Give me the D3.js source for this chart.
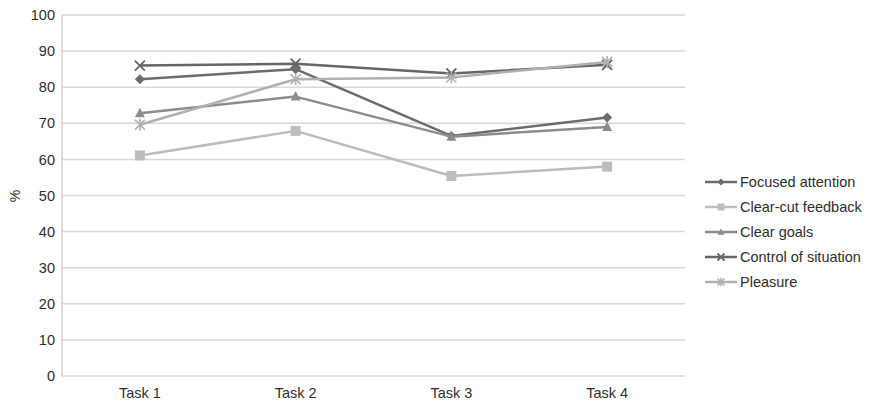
<!DOCTYPE html>
<html><head><meta charset="utf-8">
<script src="https://cdn.jsdelivr.net/npm/d3@7"></script>
<style>body{margin:0;background:#fff;}svg{display:block;font-family:"Liberation Sans",Arial,sans-serif;}</style>
</head><body>
<svg id="c" width="869" height="405"></svg>
<script>
const categories = ["Task 1","Task 2","Task 3","Task 4"];
const seriesNames = ["Focused attention","Clear-cut feedback","Clear goals","Control of situation","Pleasure"];
const focusedAttention = [82.2, 85.0, 66.5, 71.6];
const clearCutFeedback = [61.1, 67.9, 55.4, 58.0];
const clearGoals = [72.8, 77.4, 66.3, 69.0];
const controlOfSituation = [86.0, 86.5, 83.8, 86.2];
const pleasure = [69.6, 82.2, 82.7, 87.0];
const yTicks = [0,10,20,30,40,50,60,70,80,90,100];

const seriesValues = [focusedAttention, clearCutFeedback, clearGoals, controlOfSituation, pleasure];
const colors = ["#6c6c6c","#bcbcbc","#8c8c8c","#666666","#b0b0b0"];
const markers = ["diamond","square","triangle","x","star"];
const FONT = '"Liberation Sans",Arial,sans-serif';
const TXT = "#2e2e2e";

const svg = d3.select("#c");
const L = 62, R = 685, T = 15, B = 376;
const x = d3.scaleBand().domain(categories).range([L, R]);
const y = d3.scaleLinear().domain([0,100]).range([B, T]);

svg.append("g").selectAll("line").data(yTicks).join("line")
  .attr("x1", L).attr("x2", R).attr("y1", d=>y(d)).attr("y2", d=>y(d))
  .attr("stroke", "#d9d9d9").attr("stroke-width", 1.5);
svg.append("line").attr("x1", L).attr("x2", L).attr("y1", T).attr("y2", B)
  .attr("stroke", "#d0d0d0").attr("stroke-width", 1.5);

const yAxis = d3.axisLeft(y).tickValues(yTicks).tickSize(0).tickPadding(7);
const gy = svg.append("g").attr("transform", `translate(${L},0)`).call(yAxis);
gy.select(".domain").remove();
gy.selectAll("text").attr("font-size", 14.5).attr("fill", TXT).style("font-family", FONT);

const xAxis = d3.axisBottom(x).tickSize(0).tickPadding(12);
const gx = svg.append("g").attr("transform", `translate(0,${B})`).call(xAxis);
gx.select(".domain").remove();
gx.selectAll("text").attr("font-size", 14.5).attr("fill", TXT).style("font-family", FONT);

svg.append("text").attr("transform", "translate(20,196) rotate(-90)")
  .attr("text-anchor", "middle").attr("font-size", 14).attr("fill", TXT).text("%");

function drawMarker(g, type, cx, cy, color, s) {
  if (type === "diamond") {
    g.append("path").attr("d", `M${cx},${cy-s}L${cx+s},${cy}L${cx},${cy+s}L${cx-s},${cy}Z`).attr("fill", color);
  } else if (type === "square") {
    g.append("rect").attr("x", cx-s).attr("y", cy-s).attr("width", 2*s).attr("height", 2*s).attr("fill", color);
  } else if (type === "triangle") {
    g.append("path").attr("d", `M${cx},${cy-s*1.1}L${cx+s},${cy+s*0.8}L${cx-s},${cy+s*0.8}Z`).attr("fill", color);
  } else if (type === "x") {
    g.append("path").attr("d", `M${cx-s},${cy-s}L${cx+s},${cy+s}M${cx-s},${cy+s}L${cx+s},${cy-s}`).attr("stroke", color).attr("stroke-width", 1.8);
  } else if (type === "star") {
    g.append("path").attr("d", `M${cx-s},${cy-s}L${cx+s},${cy+s}M${cx-s},${cy+s}L${cx+s},${cy-s}M${cx},${cy-s*1.2}L${cx},${cy+s*1.2}`).attr("stroke", color).attr("stroke-width", 1.6);
  }
}

const line = d3.line().x((d,i)=>x(categories[i]) + x.bandwidth()/2).y(d=>y(d));
seriesValues.forEach((vals, si) => {
  const g = svg.append("g");
  g.append("path").datum(vals).attr("d", line).attr("fill", "none")
    .attr("stroke", colors[si]).attr("stroke-width", 2.5).attr("stroke-linejoin", "round");
  vals.forEach((v, i) => {
    drawMarker(g, markers[si], x(categories[i]) + x.bandwidth()/2, y(v), colors[si], 5);
  });
});

const lg = svg.append("g");
seriesNames.forEach((name, i) => {
  const ly = 182 + i*25;
  lg.append("line").attr("x1", 705).attr("x2", 737).attr("y1", ly).attr("y2", ly)
    .attr("stroke", colors[i]).attr("stroke-width", 2.5);
  drawMarker(lg, markers[i], 721, ly, colors[i], 3.5);
  lg.append("text").attr("x", 740).attr("y", ly).attr("dy", "0.35em")
    .attr("font-size", 14.5).attr("fill", TXT).text(name);
});
</script>
</body></html>
